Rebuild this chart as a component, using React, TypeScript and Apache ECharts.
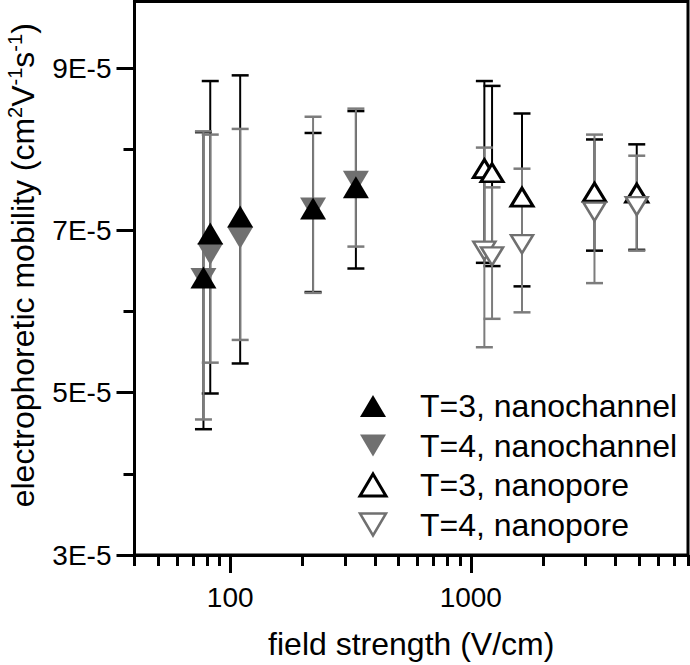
import React, { useEffect, useRef } from 'react';
import * as echarts from 'echarts';

// ---- data (field strength in V/cm, mobility in cm^2 V^-1 s^-1) ----
const nanochannelField = [77.4, 82.6, 110, 221, 333];
const nanoporeField = [1139, 1226, 1633, 3268, 4898];

const t3ChannelMobility = [6.42e-5, 6.96e-5, 7.17e-5, 7.27e-5, 7.53e-5];
const t3ChannelLow = [4.55e-5, 4.99e-5, 5.36e-5, 6.24e-5, 6.53e-5];
const t3ChannelHigh = [8.21e-5, 8.84e-5, 8.91e-5, 8.2e-5, 8.47e-5];

const t4ChannelMobility = [6.4e-5, 6.71e-5, 6.91e-5, 7.27e-5, 7.6e-5];
const t4ChannelLow = [4.67e-5, 5.37e-5, 5.65e-5, 6.23e-5, 6.8e-5];
const t4ChannelHigh = [8.22e-5, 8.18e-5, 8.25e-5, 8.4e-5, 8.5e-5];

const t3PoreMobility = [7.76e-5, 7.71e-5, 7.41e-5, 7.47e-5, 7.46e-5];
const t3PoreLow = [6.6e-5, 6.56e-5, 6.31e-5, 6.75e-5, 6.76e-5];
const t3PoreHigh = [8.84e-5, 8.78e-5, 8.44e-5, 8.12e-5, 8.06e-5];

const t4PoreMobility = [6.75e-5, 6.68e-5, 6.83e-5, 7.23e-5, 7.3e-5];
const t4PoreLow = [5.56e-5, 5.91e-5, 5.99e-5, 6.35e-5, 6.75e-5];
const t4PoreHigh = [8.02e-5, 7.53e-5, 7.76e-5, 8.18e-5, 7.92e-5];

const seriesNames = ['T=3, nanochannel', 'T=4, nanochannel', 'T=3, nanopore', 'T=4, nanopore'];

const xMajorTicks = [100, 1000];
const xMinorTicks = [40, 50, 60, 70, 80, 90, 200, 300, 400, 500, 600, 700, 800, 900, 2000, 3000, 4000, 5000, 6000, 7000, 8000];
const yMajorTicks = [3e-5, 5e-5, 7e-5, 9e-5];
const yMinorTicks = [4e-5, 6e-5, 8e-5];

const FONT = "'Liberation Sans', Arial, Helvetica, sans-serif";
const BLACK = '#000000';
const GRAY_MARK = '#707070';
const GRAY_BAR = '#7c7c7c';
const DOWN_TRIANGLE = 'path://M0,0L26,0L13,22Z';

function points(xs: number[], ys: number[]) {
  return xs.map((x, i) => [x, ys[i]]);
}

function errorBars(name: string, xs: number[], lows: number[], highs: number[], color: string) {
  return {
    type: 'custom',
    name,
    silent: true,
    xAxisIndex: 0,
    yAxisIndex: 0,
    data: xs.map((x, i) => [x, lows[i], highs[i]]),
    encode: { x: 0, y: [1, 2] },
    renderItem: (params: any, api: any) => {
      const x = api.value(0);
      const lo = api.coord([x, api.value(1)]);
      const hi = api.coord([x, api.value(2)]);
      const hw = 8.5;
      return {
        type: 'group',
        children: [
          { type: 'line', shape: { x1: lo[0], y1: lo[1], x2: hi[0], y2: hi[1] }, style: { stroke: color, lineWidth: 2 } },
          { type: 'line', shape: { x1: lo[0] - hw, y1: lo[1], x2: lo[0] + hw, y2: lo[1] }, style: { stroke: color, lineWidth: 2.5 } },
          { type: 'line', shape: { x1: hi[0] - hw, y1: hi[1], x2: hi[0] + hw, y2: hi[1] }, style: { stroke: color, lineWidth: 2.5 } },
        ],
      };
    },
  };
}

export default function App() {
  const ref = useRef<HTMLDivElement>(null);

  useEffect(() => {
    document.body.style.margin = '0';
    if (!ref.current) return;
    const chart = echarts.init(ref.current, null, { renderer: 'svg' });

    const commonX = { type: 'log', logBase: 10, min: 40, max: 8000, position: 'bottom', splitLine: { show: false } };
    const commonY = { type: 'value', min: 3e-5, max: 9.82e-5, position: 'left', splitLine: { show: false } };

    const option: any = {
      animation: false,
      backgroundColor: '#ffffff',
      textStyle: { fontFamily: FONT },
      grid: {
        left: 134.5,
        right: 2,
        top: 1.5,
        bottom: 110,
        show: true,
        borderColor: BLACK,
        borderWidth: 3,
        backgroundColor: 'transparent',
        containLabel: false,
        outerBoundsMode: 'none',
      },
      xAxis: [
        {
          ...commonX,
          name: 'field strength (V/cm)',
          nameLocation: 'middle',
          nameGap: 71,
          nameTextStyle: { fontSize: 32, color: BLACK, fontFamily: FONT, lineHeight: 36 },
          axisLine: { show: true, lineStyle: { color: BLACK, width: 3 } },
          axisTick: { show: true, customValues: xMajorTicks, length: 18, lineStyle: { color: BLACK, width: 3 } },
          axisLabel: {
            show: true,
            customValues: xMajorTicks,
            margin: 28,
            fontSize: 28,
            color: BLACK,
            fontFamily: FONT,
            formatter: (v: number) => String(Math.round(v)),
          },
        },
        {
          ...commonX,
          axisLine: { show: false },
          axisTick: { show: true, customValues: xMinorTicks, length: 11, lineStyle: { color: BLACK, width: 3 } },
          axisLabel: { show: false },
        },
      ],
      yAxis: [
        {
          ...commonY,
          name: 'electrophoretic mobility (cm{sup|2}V{sup|-1}s{sup|-1})',
          nameLocation: 'middle',
          nameGap: 90,
          nameTextStyle: {
            fontSize: 32,
            color: BLACK,
            fontFamily: FONT,
            lineHeight: 36,
            padding: [0, 0, 0, 26],
            rich: {
              sup: { fontSize: 20, lineHeight: 20, verticalAlign: 'top', color: BLACK, fontFamily: FONT },
            },
          },
          axisLine: { show: true, lineStyle: { color: BLACK, width: 3 } },
          axisTick: { show: true, customValues: yMajorTicks, length: 18, lineStyle: { color: BLACK, width: 3 } },
          axisLabel: {
            show: true,
            customValues: yMajorTicks,
            margin: 23,
            fontSize: 28,
            color: BLACK,
            fontFamily: FONT,
            formatter: (v: number) => `${Math.round(v * 1e5)}E-5`,
          },
        },
        {
          ...commonY,
          axisLine: { show: false },
          axisTick: { show: true, customValues: yMinorTicks, length: 11, lineStyle: { color: BLACK, width: 3 } },
          axisLabel: { show: false },
        },
      ],
      legend: {
        orient: 'vertical',
        left: 358.5,
        top: 389,
        padding: 0,
        itemWidth: 26,
        itemHeight: 22,
        itemGap: 5.5,
        selectedMode: false,
        textStyle: { fontSize: 32, color: BLACK, fontFamily: FONT, lineHeight: 34, padding: [0, 0, 0, 29] },
        data: [
          { name: seriesNames[0], icon: 'triangle' },
          { name: seriesNames[1], icon: DOWN_TRIANGLE },
          { name: seriesNames[2], icon: 'triangle', itemStyle: { borderWidth: 3 } },
          { name: seriesNames[3], icon: DOWN_TRIANGLE, itemStyle: { borderWidth: 2.5 } },
        ],
      },
      series: [
        errorBars('err T=3 nanochannel', nanochannelField, t3ChannelLow, t3ChannelHigh, BLACK),
        errorBars('err T=3 nanopore', nanoporeField, t3PoreLow, t3PoreHigh, BLACK),
        errorBars('err T=4 nanochannel', nanochannelField, t4ChannelLow, t4ChannelHigh, GRAY_BAR),
        errorBars('err T=4 nanopore', nanoporeField, t4PoreLow, t4PoreHigh, GRAY_BAR),
        {
          type: 'scatter',
          name: seriesNames[1],
          data: points(nanochannelField, t4ChannelMobility),
          symbol: 'triangle',
          symbolRotate: 180,
          symbolSize: [26, 22],
          itemStyle: { color: GRAY_MARK, opacity: 1 },
        },
        {
          type: 'scatter',
          name: seriesNames[0],
          data: points(nanochannelField, t3ChannelMobility),
          symbol: 'triangle',
          symbolSize: [26, 22],
          itemStyle: { color: BLACK, opacity: 1 },
        },
        {
          type: 'scatter',
          name: seriesNames[2],
          data: points(nanoporeField, t3PoreMobility),
          symbol: 'triangle',
          symbolSize: [22, 18],
          itemStyle: { color: '#ffffff', borderColor: BLACK, borderWidth: 3, opacity: 1 },
        },
        {
          type: 'scatter',
          name: seriesNames[3],
          data: points(nanoporeField, t4PoreMobility),
          symbol: 'triangle',
          symbolRotate: 180,
          symbolSize: [22, 18],
          itemStyle: { color: '#ffffff', borderColor: GRAY_MARK, borderWidth: 2.5, opacity: 1 },
        },
      ],
    };

    chart.setOption(option);
    return () => chart.dispose();
  }, []);

  return (
    <div
      ref={ref}
      style={{ position: 'absolute', left: 0, top: 0, width: 690, height: 665, background: '#fff' }}
    />
  );
}
